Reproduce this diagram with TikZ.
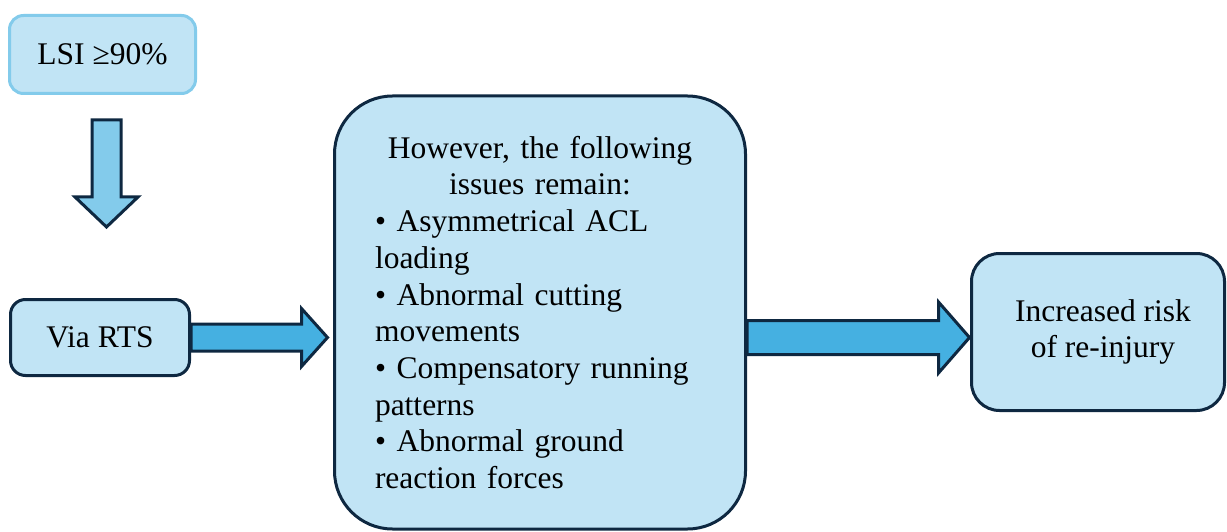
\documentclass[tikz,border=0pt]{standalone}
\usepackage{fontspec}
\setmainfont{Liberation Serif}
\usetikzlibrary{calc}
\definecolor{boxfill}{HTML}{C1E4F5}
\definecolor{lightedge}{HTML}{83CBEB}
\definecolor{darkedge}{HTML}{0E2841}
\definecolor{arrowlight}{HTML}{83CBEB}
\definecolor{arrowmid}{HTML}{45B0E1}
\begin{document}
\begin{tikzpicture}[x=1pt,y=-1pt,
  box/.style={draw=darkedge, line width=3pt, fill=boxfill, inner sep=0pt,
    font=\fontsize{31.5}{36.7}\selectfont, align=center},
  blockarrow/.style={draw=darkedge, line width=3pt, line join=miter}]
\useasboundingbox (0,0) rectangle (1227,532);

\node[box, draw=lightedge, rounded corners=14pt, minimum width=186pt, minimum height=78pt] (lsi) at (102.5,54.5) {LSI ≥90\%};
\node[box, rounded corners=15pt, minimum width=179pt, minimum height=76pt] (rts) at (100,337.5) {Via RTS};
\node[box, rounded corners=58pt, minimum width=411pt, minimum height=433pt, text width=330pt, align=left] (mid) at (540,312.5)
  {{\centering However, the following\\ issues remain:\par}\noindent • Asymmetrical ACL\\ loading\\ • Abnormal cutting\\ movements\\ • Compensatory running\\ patterns\\ • Abnormal ground\\ reaction forces};
\node[box, rounded corners=28pt, minimum width=253pt, minimum height=157pt, font=\fontsize{31.5}{35.5}\selectfont] (risk) at (1098,332) {\hspace*{10pt}Increased risk\\\hspace*{10pt}of re-injury};

\coordinate (dtop) at ($(lsi.south)+(4,25)$);
\begin{scope}[shift={(dtop)}]
\draw[blockarrow, fill=arrowlight] (-14.5,0) -- (14.5,0) -- (14.5,77) -- (31.5,77) -- (0,107) -- (-31.5,77) -- (-14.5,77) -- cycle;
\end{scope}
\begin{scope}[shift={(rts.east)}]
\draw[blockarrow, fill=arrowmid] (0,-13.5) -- (110.5,-13.5) -- (110.5,-29) -- (136.5,0) -- (110.5,29) -- (110.5,13.5) -- (0,13.5) -- cycle;
\end{scope}
\coordinate (a2) at (mid.east |- rts.east);
\begin{scope}[shift={(a2)}]
\draw[blockarrow, fill=arrowmid] (0,-17) -- (191.5,-17) -- (191.5,-35.5) -- (222.5,0) -- (191.5,35.5) -- (191.5,17) -- (0,17) -- cycle;
\end{scope}
\end{tikzpicture}
\end{document}
